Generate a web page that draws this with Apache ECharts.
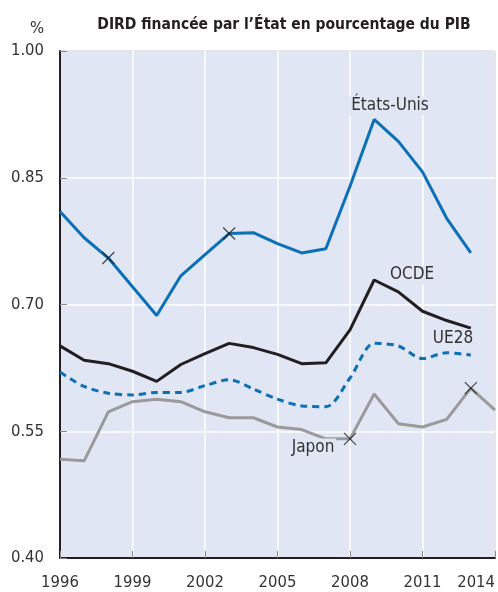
<!DOCTYPE html>
<html>
<head>
<meta charset="utf-8">
<script src="https://cdn.jsdelivr.net/npm/echarts@6/dist/echarts.min.js"></script>
<style>
  html, body { margin: 0; padding: 0; background: #fff; }
  #chart { width: 498px; height: 592px; }
</style>
</head>
<body>
<div id="chart"></div>
<script>
// années
var years = ['1996','1997','1998','1999','2000','2001','2002','2003','2004','2005',
             '2006','2007','2008','2009','2010','2011','2012','2013','2014'];

// valeurs (% du PIB)
var etatsUnis = [0.810,0.779,0.755,0.721,0.687,0.734,0.759,0.784,0.785,0.772,
                 0.761,0.766,0.840,0.919,0.893,0.857,0.802,0.761,null];
var ocde      = [0.651,0.634,0.630,0.621,0.609,0.629,0.642,0.654,0.649,0.641,
                 0.630,0.631,0.670,0.729,0.715,0.692,0.681,0.672,null];
var ue28      = [0.620,0.603,0.595,0.593,0.596,0.596,0.604,0.611,0.600,0.588,
                 0.580,0.579,0.613,0.654,0.651,0.636,0.643,0.640,null];
var japon     = [0.517,0.515,0.573,0.585,0.588,0.585,0.573,0.566,0.566,0.555,
                 0.552,0.541,0.541,0.594,0.559,0.555,0.564,0.601,0.575];

// ruptures de série (croix)
var rupturesEU = ['1998','2003'];
var rupturesJP = ['2008','2013'];

var font = "'DejaVu Sans Condensed', 'Liberation Sans Narrow', sans-serif";
var bleu = '#0b71b6';
var fond = '#e0e6f4';
var croix = 'path://M0,0L10,10M10,0L0,10';

function points(serie, ruptures) {
  return ruptures.map(function (y) {
    var i = years.indexOf(y);
    return [i, serie[i]];
  });
}

// étiquette de série posée sur le fond du graphique
function etiquette(txt, x, y) {
  return {
    type: 'text', x: x, y: y, z: 100,
    style: {
      text: txt, font: '17px ' + font, fill: '#333',
      align: 'center', verticalAlign: 'middle',
      backgroundColor: fond, padding: [1, 2]
    }
  };
}

var chart = echarts.init(document.getElementById('chart'));
var option = {
  animation: false,
  textStyle: { fontFamily: font },
  title: {
    text: 'DIRD financée par l’État en pourcentage du PIB',
    left: 279,
    textAlign: 'center',
    top: 12,
    textStyle: { fontFamily: font, fontSize: 15.5, fontWeight: 'bold', color: '#231f20' }
  },
  grid: {
    left: 60, right: 1, top: 51, bottom: 34,
    show: true,
    backgroundColor: fond,
    borderColor: '#444',
    borderWidth: 1
  },
  xAxis: {
    type: 'category',
    data: years,
    boundaryGap: false,
    axisLine: { lineStyle: { color: '#231f20', width: 2 } },
    axisTick: { inside: true, interval: 2, length: 7, lineStyle: { color: '#888' } },
    splitLine: { show: true, interval: 2, lineStyle: { color: '#fff', width: 1.5 } },
    axisLabel: {
      interval: 2, margin: 16, fontSize: 16.5, color: '#333', fontFamily: font,
      alignMaxLabel: 'right'
    }
  },
  yAxis: {
    type: 'value',
    min: 0.4, max: 1.0, interval: 0.15,
    axisLine: { show: true, lineStyle: { color: '#231f20', width: 2 } },
    axisTick: { show: true, inside: true, length: 7, lineStyle: { color: '#888' } },
    splitLine: { lineStyle: { color: '#fff', width: 1.5 } },
    axisLabel: {
      margin: 16, fontSize: 16.5, color: '#333', fontFamily: font,
      formatter: function (v) { return v.toFixed(2); }
    }
  },
  graphic: [
    { type: 'text', left: 30, top: 20, style: { text: '%', font: '16.5px ' + font, fill: '#333' } },
    etiquette('États-Unis', 390, 106),
    etiquette('OCDE', 412, 275),
    etiquette('UE28', 453, 339),
    etiquette('Japon', 313, 448)
  ],
  series: [
    {
      name: 'Japon', type: 'line', data: japon, symbol: 'none',
      lineStyle: { color: '#9a9a9a', width: 3 }
    },
    {
      name: 'UE28', type: 'line', data: ue28, symbol: 'none', smooth: 0.3,
      lineStyle: { color: bleu, width: 3, type: [7, 5] }
    },
    {
      name: 'OCDE', type: 'line', data: ocde, symbol: 'none',
      lineStyle: { color: '#231f20', width: 3 }
    },
    {
      name: 'États-Unis', type: 'line', data: etatsUnis, symbol: 'none',
      lineStyle: { color: bleu, width: 3 }
    },
    {
      type: 'scatter', symbol: croix, symbolSize: 12, silent: true,
      data: points(etatsUnis, rupturesEU).concat(points(japon, rupturesJP)),
      itemStyle: { color: 'none', borderColor: '#1a1a1a', borderWidth: 1.2 },
      z: 5
    }
  ]
};
chart.setOption(option);
</script>
</body>
</html>
